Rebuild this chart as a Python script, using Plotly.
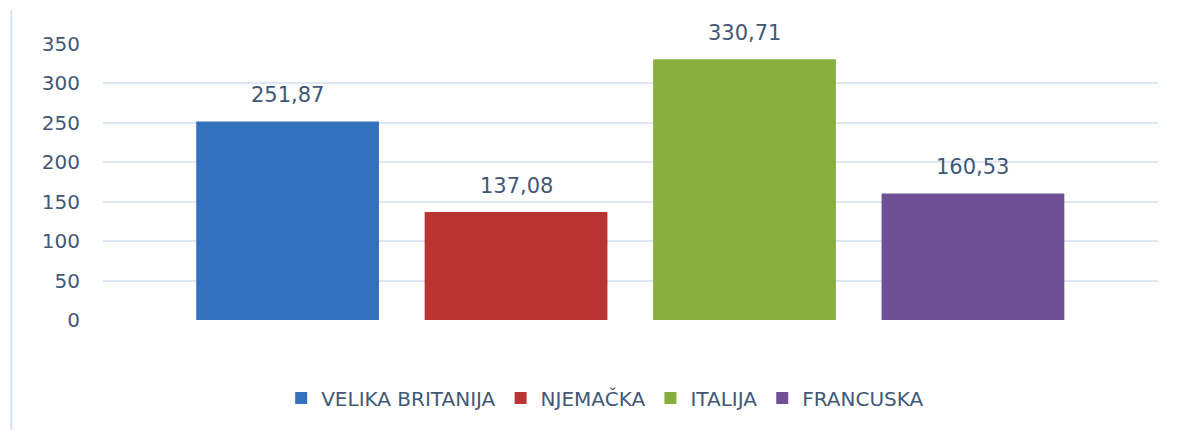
import plotly.graph_objects as go

countries = ["VELIKA BRITANIJA", "NJEMAČKA", "ITALIJA", "FRANCUSKA"]
values = [251.87, 137.08, 330.71, 160.53]
colors = ["#3471bd", "#b83533", "#88ae3d", "#6f4f95"]
tick_vals = [0, 50, 100, 150, 200, 250, 300, 350]

TXT = "#3f5878"
FONT = "DejaVu Sans"

fig = go.Figure()
for name, v, c in zip(countries, values, colors):
    fig.add_trace(go.Bar(
        x=[name], y=[v], name=name,
        marker=dict(color=c, line=dict(width=0)),
        cliponaxis=False,
    ))
    fig.add_annotation(
        x=name, y=v, xref="x", yref="y",
        text=f"{v:.2f}".replace(".", ","),
        showarrow=False, yanchor="bottom", yshift=12,
        font=dict(size=21, color=TXT, family=FONT),
    )

fig.update_layout(
    width=1191, height=430,
    margin=dict(l=103, r=33, t=44, b=110),
    paper_bgcolor="white", plot_bgcolor="white",
    bargap=0.2,
    showlegend=True,
    legend=dict(orientation="h", x=0.476, xanchor="center", y=-0.283, yanchor="middle",
                font=dict(size=20, color=TXT, family=FONT), itemwidth=30,
                tracegroupgap=0),
    font=dict(family=FONT, color=TXT),
)
fig.update_xaxes(showticklabels=False, showgrid=False, zeroline=False, showline=False,
                 range=[-0.808, 3.81])
fig.update_yaxes(range=[0, 350], tickvals=tick_vals, showgrid=True, gridcolor="#dee7f3",
                 gridwidth=1.5, zeroline=False, showline=False,
                 tickfont=dict(size=20, color=TXT, family=FONT), ticklabelstandoff=22)

fig.add_shape(type="line", xref="paper", yref="paper",
              x0=-0.087, x1=-0.087, y0=-0.4, y1=1.123,
              line=dict(color="#d6e3f3", width=2))

fig.write_html("out.html")
